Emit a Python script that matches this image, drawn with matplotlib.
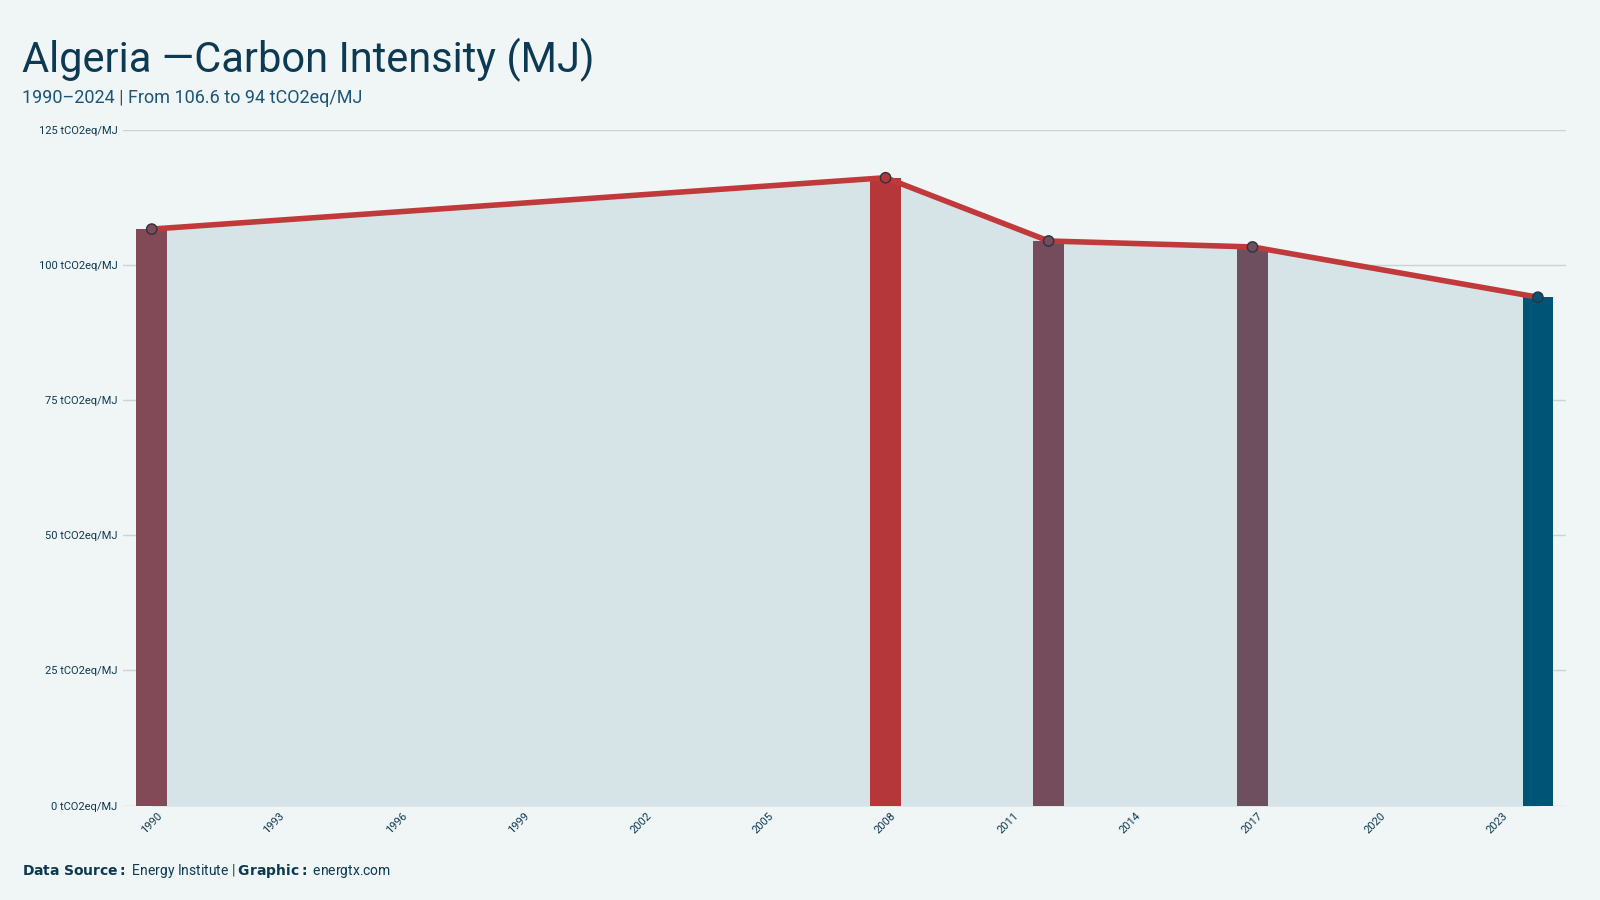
import matplotlib
matplotlib.use("Agg")
import matplotlib.pyplot as plt
import numpy as np

years = [1990, 2008, 2012, 2017, 2024]
values = [106.6, 116.1, 104.4, 103.3, 94.0]
bar_colors = ["#824a56", "#b5373a", "#744c5c", "#6e4f60", "#005577"]
tick_years = list(range(1990, 2024, 3))
yticks = [0, 25, 50, 75, 100, 125]

plt.rcParams['font.family'] = ['Roboto', 'DejaVu Sans']
bg = "#f0f5f5"
dark = "#0d3a52"
fig = plt.figure(figsize=(16, 9), dpi=100, facecolor=bg)
ax = fig.add_axes([0.077, 0.105, 0.902, 0.751], facecolor=bg)

ax.fill_between(years, values, 0, color="#d6e4e7", zorder=1)
ax.bar(years, values, width=0.75, color=bar_colors, zorder=2)
ax.plot(years, values, color="#c0393b", lw=4, zorder=3, solid_capstyle="round")
ax.scatter(years, values, s=55, c=bar_colors, edgecolors="#2a3340", linewidths=1, zorder=4)

ax.set_xlim(1989.3, 2024.7)
ax.set_ylim(0, 125)
ax.set_yticks(yticks)
ax.set_yticklabels([f"{v} tCO2eq/MJ" for v in yticks], fontsize=8, color=dark)
ax.set_xticks(tick_years)
ax.set_xticklabels([str(y) for y in tick_years], rotation=45, fontsize=8, color=dark)
ax.grid(axis="y", color="#c8d4d6", lw=1, zorder=0)
ax.set_axisbelow(True)
for s in ax.spines.values():
    s.set_visible(False)
ax.tick_params(length=0, pad=4)

fig.text(0.014, 0.92, "Algeria —Carbon Intensity (MJ)", fontsize=30, color=dark, stretch="condensed")
fig.text(0.014, 0.886, "1990–2024 | From 106.6 to 94 tCO2eq/MJ", fontsize=13, color="#1d5577")
fig.text(0.014, 0.028, r"$\bf{Data\ Source:}$ Energy Institute | $\bf{Graphic:}$ energtx.com", fontsize=10, color=dark)

fig.savefig("out.png", dpi=100, facecolor=bg)
